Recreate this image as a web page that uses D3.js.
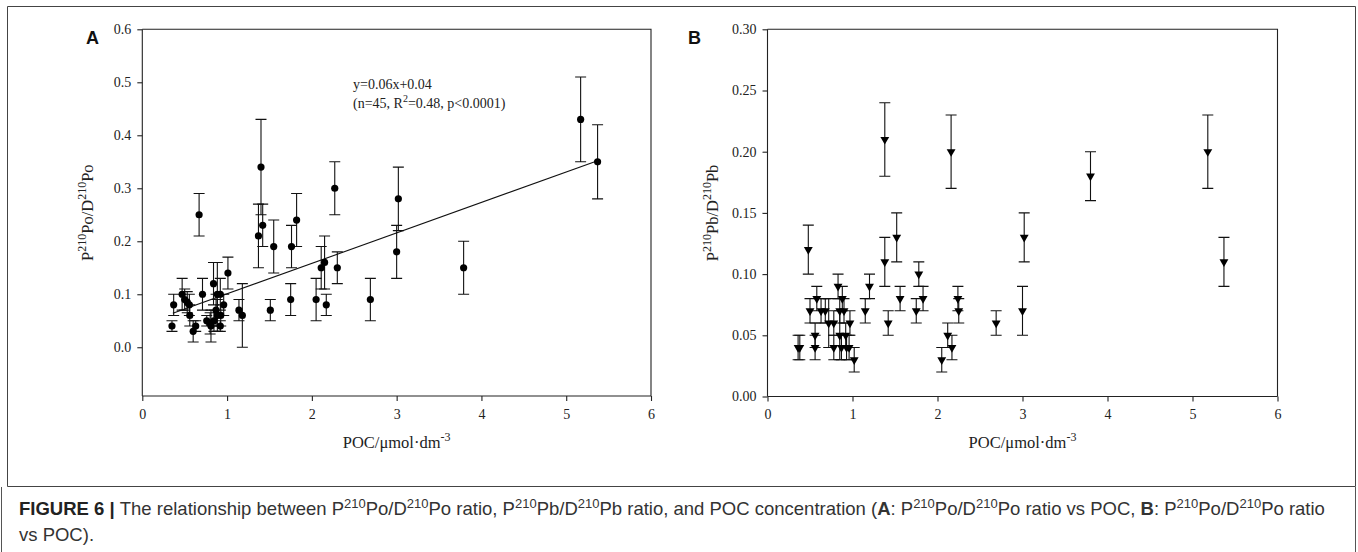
<!DOCTYPE html>
<html><head><meta charset="utf-8">
<script src="https://cdn.jsdelivr.net/npm/d3@7"></script>
<style>
html,body{margin:0;padding:0;background:#fff;}
svg{display:block;}
</style></head>
<body>
<svg id="chart" width="1358" height="552"></svg>
<script>
// ---------- data (x = POC, y = ratio, e = error) ----------
const poRatioPoints = [
  [0.35,0.04,0.01],[0.37,0.08,0.02],[0.47,0.10,0.03],[0.50,0.09,0.02],[0.53,0.085,0.02],
  [0.555,0.08,0.02],[0.56,0.06,0.02],[0.60,0.03,0.02],[0.63,0.04,0.01],[0.67,0.25,0.04],
  [0.71,0.10,0.03],[0.76,0.05,0.01],[0.80,0.045,0.02],[0.81,0.04,0.03],[0.84,0.12,0.04],
  [0.845,0.05,0.02],[0.87,0.07,0.03],[0.885,0.10,0.06],[0.92,0.10,0.03],[0.885,0.06,0.03],
  [0.92,0.04,0.01],[0.925,0.06,0.02],[0.96,0.08,0.02],[1.01,0.14,0.03],[1.14,0.07,0.02],
  [1.18,0.06,0.06],[1.37,0.21,0.06],[1.40,0.34,0.09],[1.42,0.23,0.04],[1.51,0.07,0.02],
  [1.55,0.19,0.05],[1.75,0.09,0.03],[1.76,0.19,0.04],[1.82,0.24,0.05],[2.05,0.09,0.04],
  [2.11,0.15,0.04],[2.15,0.16,0.05],[2.17,0.08,0.02],[2.27,0.30,0.05],[2.30,0.15,0.03],
  [2.69,0.09,0.04],[3.00,0.18,0.05],[3.02,0.28,0.06],[3.79,0.15,0.05],[5.17,0.43,0.08],
  [5.37,0.35,0.07]
];
const pbRatioPoints = [
  [0.36,0.04,0.01],[0.38,0.04,0.01],[0.48,0.12,0.02],[0.50,0.07,0.01],[0.56,0.04,0.01],
  [0.56,0.05,0.01],[0.58,0.08,0.01],[0.63,0.07,0.01],[0.68,0.07,0.01],[0.72,0.06,0.02],
  [0.78,0.04,0.01],[0.78,0.06,0.01],[0.83,0.09,0.01],[0.85,0.05,0.02],[0.87,0.04,0.01],
  [0.88,0.08,0.01],[0.90,0.07,0.01],[0.92,0.05,0.01],[0.93,0.04,0.01],[0.96,0.04,0.01],
  [0.97,0.06,0.01],[1.02,0.03,0.01],[1.15,0.07,0.01],[1.20,0.09,0.01],[1.38,0.21,0.03],
  [1.38,0.11,0.02],[1.42,0.06,0.01],[1.52,0.13,0.02],[1.56,0.08,0.01],[1.75,0.07,0.01],
  [1.78,0.10,0.01],[1.83,0.08,0.01],[2.05,0.03,0.01],[2.12,0.05,0.01],[2.16,0.20,0.03],
  [2.17,0.04,0.01],[2.24,0.08,0.01],[2.25,0.07,0.01],[2.69,0.06,0.01],[3.00,0.07,0.02],
  [3.02,0.13,0.02],[3.80,0.18,0.02],[5.18,0.20,0.03],[5.37,0.11,0.02],[0.85,0.07,0.01]
];
const fitLineA = [[0.36,0.064],[5.37,0.352]];
const xTicks = [0,1,2,3,4,5,6];
const yTicksA = [0.0,0.1,0.2,0.3,0.4,0.5,0.6];
const yTicksB = [0.00,0.05,0.10,0.15,0.20,0.25,0.30];
const xDomain = [0,6];
const yDomainA = [-0.092,0.6];
const yDomainB = [0,0.30];
const fitText = ["y=0.06x+0.04","(n=45, R","2","=0.48, p<0.0001)"];

// ---------- drawing ----------
const svg = d3.select("#chart");
const serif = "'Liberation Serif','Times New Roman',serif";
const sans = "'Liberation Sans',Arial,Helvetica,sans-serif";

// outer frame (figure) and caption side borders
svg.append("path").attr("d","M7.5,6.5H1355.5V486.5H7.5Z")
  .attr("fill","none").attr("stroke","#444").attr("stroke-width",1);
svg.append("path").attr("d","M1.5,487V552M1355.5,487V552")
  .attr("fill","none").attr("stroke","#555").attr("stroke-width",1);

function panel(cfg){
  const x = d3.scaleLinear().domain(xDomain).range([cfg.left,cfg.right]);
  const y = d3.scaleLinear().domain(cfg.yDomain).range([cfg.bottom,cfg.top]);
  const g = svg.append("g");
  g.append("path").attr("d",`M${cfg.left},${cfg.top}H${cfg.right}V${cfg.bottom}`)
    .attr("fill","none").attr("stroke","#222").attr("stroke-width",1.1);
  const xa = g.append("g").attr("transform",`translate(0,${cfg.bottom})`)
    .call(d3.axisBottom(x).tickValues(xTicks).tickFormat(d3.format("d")).tickSizeOuter(0).tickSize(5).tickPadding(8));
  const ya = g.append("g").attr("transform",`translate(${cfg.left},0)`)
    .call(d3.axisLeft(y).tickValues(cfg.yTicks).tickFormat(d3.format(cfg.fmt)).tickSizeOuter(0).tickSize(5).tickPadding(6));
  [xa,ya].forEach(a=>{
    a.selectAll("text").attr("font-family",serif).attr("font-size",14).attr("fill","#222");
    a.selectAll("line,path").attr("stroke","#222").attr("stroke-width",1.1);
  });
  xa.select(".domain").attr("d",`M${cfg.left},0H${cfg.right}`);
  ya.select(".domain").attr("d",`M0,${cfg.bottom}V${cfg.top}`);

  const cap = 5.5;
  const eb = g.append("g").attr("stroke","#111").attr("stroke-width",1.1).attr("fill","none");
  cfg.data.forEach(d=>{
    const cx = x(d[0]), y1 = y(d[1]+d[2]), y2 = y(d[1]-d[2]);
    eb.append("path").attr("d",`M${cx},${y1}V${y2}M${cx-cap},${y1}H${cx+cap}M${cx-cap},${y2}H${cx+cap}`);
  });
  if(cfg.fit){
    g.append("line").attr("x1",x(cfg.fit[0][0])).attr("y1",y(cfg.fit[0][1]))
      .attr("x2",x(cfg.fit[1][0])).attr("y2",y(cfg.fit[1][1]))
      .attr("stroke","#111").attr("stroke-width",1.1);
  }
  if(cfg.marker==="circle"){
    g.selectAll("circle.pt").data(cfg.data).join("circle").attr("class","pt")
      .attr("cx",d=>x(d[0])).attr("cy",d=>y(d[1])).attr("r",3.6).attr("fill","#000");
  } else {
    const tri = d3.symbol().type(d3.symbolTriangle).size(34);
    g.selectAll("path.pt").data(cfg.data).join("path").attr("class","pt")
      .attr("d",tri).attr("fill","#000")
      .attr("transform",d=>`translate(${x(d[0])},${y(d[1])}) rotate(180)`);
  }
  const yt = g.append("text").attr("font-family",serif).attr("font-size",16.5).attr("fill","#222")
    .attr("text-anchor","middle")
    .attr("transform",`translate(${cfg.yTitleX},${(cfg.top+cfg.bottom)/2}) rotate(-90)`);
  cfg.yTitle.forEach(p=>{
    const t = yt.append("tspan").text(p.t);
    if(p.sup){ t.attr("font-size",12).attr("dy",-7); }
    else if(p.after){ t.attr("dy",7); }
  });
  const xt = g.append("text").attr("font-family",serif).attr("font-size",16.5).attr("fill","#222")
    .attr("text-anchor","middle").attr("x",(cfg.left+cfg.right)/2).attr("y",448);
  xt.append("tspan").text("POC/μmol·dm");
  xt.append("tspan").text("-3").attr("font-size",12).attr("dy",-7);
  svg.append("text").attr("x",cfg.letterX).attr("y",44).attr("font-family",sans)
    .attr("font-weight","bold").attr("font-size",18).attr("fill","#111").text(cfg.letter);
  return {x,y,g};
}

panel({left:142.3,right:651,top:29.3,bottom:396,yDomain:yDomainA,yTicks:yTicksA,fmt:".1f",
  data:poRatioPoints,marker:"circle",fit:fitLineA,yTitleX:93,letter:"A",letterX:86,
  yTitle:[{t:"P"},{t:"210",sup:true},{t:"Po/D",after:true},{t:"210",sup:true},{t:"Po",after:true}]});
panel({left:767.5,right:1277.5,top:29.3,bottom:396.5,yDomain:yDomainB,yTicks:yTicksB,fmt:".2f",
  data:pbRatioPoints,marker:"triangle",yTitleX:718,letter:"B",letterX:688,
  yTitle:[{t:"P"},{t:"210",sup:true},{t:"Pb/D",after:true},{t:"210",sup:true},{t:"Pb",after:true}]});

const ann = svg.append("g").attr("font-family",serif).attr("font-size",14).attr("fill","#222");
ann.append("text").attr("x",353).attr("y",89).text(fitText[0]);
const l2 = ann.append("text").attr("x",353).attr("y",108);
l2.append("tspan").text(fitText[1]);
l2.append("tspan").text(fitText[2]).attr("font-size",10).attr("dy",-6);
l2.append("tspan").text(fitText[3]).attr("dy",6);

// caption
const capG = svg.append("g").attr("font-family",sans).attr("font-size",18.5).attr("fill","#333");
const c1 = capG.append("text").attr("x",19).attr("y",515);
function sup(t,s){ t.append("tspan").text(s).attr("font-size",13).attr("dy",-7); }
function norm(t,s,back){ const u=t.append("tspan").text(s); if(back) u.attr("dy",7); return u; }
c1.append("tspan").text("FIGURE 6 | ").attr("font-weight","bold").attr("fill","#222");
norm(c1,"The relationship between P"); sup(c1,"210"); norm(c1,"Po/D",1); sup(c1,"210"); norm(c1,"Po ratio, P",1);
sup(c1,"210"); norm(c1,"Pb/D",1); sup(c1,"210"); norm(c1,"Pb ratio, and POC concentration (",1);
c1.append("tspan").text("A").attr("font-weight","bold"); norm(c1,": P"); sup(c1,"210"); norm(c1,"Po/D",1); sup(c1,"210");
norm(c1,"Po ratio vs POC, ",1); c1.append("tspan").text("B").attr("font-weight","bold"); norm(c1,": P"); sup(c1,"210");
norm(c1,"Po/D",1); sup(c1,"210"); norm(c1,"Po ratio",1);
capG.append("text").attr("x",19).attr("y",541).text("vs POC).");
</script>
</body></html>
